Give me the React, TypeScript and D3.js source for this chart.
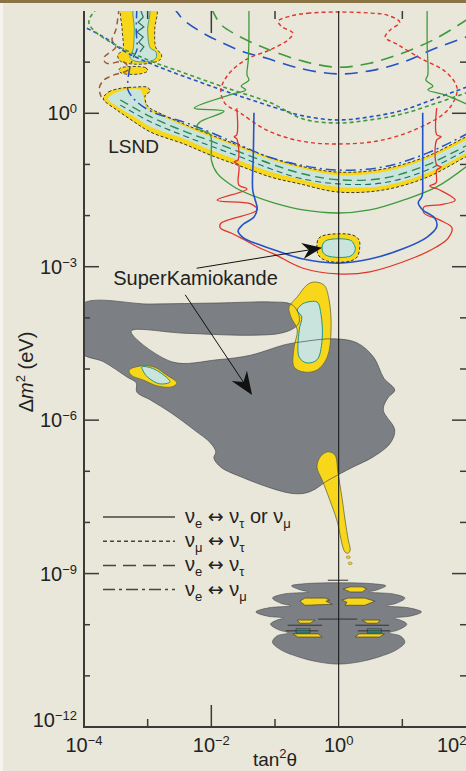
import React from "react";
import * as d3 from "d3";

type Pt = [number, number]; // [log10 tan²θ, log10 Δm²]

// ---- axis ticks / labels ----
const xLabelExps = [-4, -2, 0, 2];
const xMinorExps = [-3, -1, 1];
const xMajorTickExps = [-2];
const yLabelExps = [0, -3, -6, -9, -12];
const yDecades = [1, 0, -1, -2, -3, -4, -5, -6, -7, -8, -9, -10, -11];

// ---- exclusion curves (top) ----
const blueLongDash: Pt[] = [[-2.6,2.08],[-2.54,1.98],[-2.43,1.82],[-2.16,1.59],[-1.85,1.39],[-1.49,1.2],[-1.14,1.08],[-0.65,0.89],[-0.03,0.77],[0.49,0.83],[1.01,1.0],[1.54,1.28],[2.05,1.51]];
const greenLongDash: Pt[] = [[-2.0,2.06],[-1.86,1.75],[-1.63,1.55],[-1.17,1.28],[-0.56,1.02],[-0.01,0.9],[0.49,0.98],[1.01,1.18],[1.54,1.47],[2.05,1.86]];
const blueShortDash: Pt[] = [[-4.05,1.72],[-3.69,1.49],[-3.32,1.18],[-2.79,0.89],[-2.27,0.65],[-1.75,0.42],[-1.02,0.12],[-0.56,-0.05],[-0.01,-0.13],[0.49,-0.07],[1.01,0.06],[1.54,0.3],[2.05,0.53]];
const greenShortDash: Pt[] = [[-3.8,2.05],[-3.91,1.86],[-3.92,1.75],[-3.8,1.57],[-3.48,1.32],[-2.95,1.02],[-2.43,0.79],[-1.8,0.51],[-1.06,0.2],[-0.56,-0.11],[-0.01,-0.19],[0.49,-0.13],[1.01,-0.01],[1.54,0.2],[2.05,0.42]];
const redShortDashLoop: Pt[] = [[-0.01,1.98],[-0.45,1.96],[-0.76,1.9],[-0.95,1.8],[-0.89,1.69],[-0.72,1.57],[-0.8,1.43],[-1.08,1.24],[-1.47,1.04],[-1.74,0.75],[-1.85,0.46],[-1.79,0.2],[-1.55,0.01],[-1.13,-0.33],[-0.61,-0.54],[-0.01,-0.6],[0.7,-0.52],[1.39,-0.21],[1.74,0.1],[1.86,0.49],[1.68,0.81],[1.28,1.08],[0.93,1.34],[0.73,1.49],[0.81,1.63],[0.96,1.78],[0.76,1.92],[0.49,1.96]];
const greenSolidMain: Pt[] = [[-1.41,2.05],[-1.41,1.43],[-1.42,1.04],[-1.44,0.75],[-1.41,0.65],[-1.53,0.53],[-1.46,0.46],[-1.71,0.36],[-2.27,0.1],[-1.8,0.04],[-2.18,-0.17],[-2.23,-0.29],[-2.02,-0.41],[-2.0,-0.72],[-2.0,-0.91],[-1.91,-1.17],[-1.64,-1.44],[-1.33,-1.62],[-1.02,-1.75],[-0.56,-1.89],[-0.01,-1.95],[0.49,-1.89],[1.01,-1.7],[1.54,-1.44],[2.05,-1.0]];
const greenSolidRight: Pt[] = [[1.39,2.05],[1.39,1.34],[1.4,0.75],[1.37,0.65],[1.48,0.53],[1.4,0.46],[1.67,0.36],[2.05,0.16]];
const redSolid: Pt[] = [[-1.6,0.1],[-1.6,-0.42],[-1.64,-0.46],[-1.6,-0.5],[-1.58,-0.91],[-1.64,-0.95],[-1.57,-1.01],[-1.57,-1.4],[-1.44,-1.48],[-1.91,-1.7],[-1.38,-1.77],[-1.28,-1.89],[-1.85,-2.15],[-1.86,-2.24],[-1.69,-2.34],[-1.53,-2.44],[-1.28,-2.61],[-1.02,-2.75],[-0.56,-3.03],[-0.01,-3.14],[0.49,-3.1],[1.17,-2.83],[1.54,-2.61],[1.72,-2.44],[1.78,-2.24],[1.59,-2.09],[1.34,-1.95],[1.34,-1.83],[1.59,-1.79],[1.83,-1.7],[1.59,-1.5],[1.43,-1.42],[1.53,-1.36],[1.54,-1.11],[1.61,-1.05],[1.54,-1.01],[1.54,-0.52],[1.61,-0.46],[1.54,-0.42],[1.54,0.1]];
const blueSolid: Pt[] = [[-1.33,0.01],[-1.34,-0.8],[-1.35,-1.5],[-1.31,-1.7],[-1.28,-1.85],[-1.33,-2.03],[-1.5,-2.17],[-1.58,-2.3],[-1.49,-2.44],[-1.22,-2.58],[-1.02,-2.67],[-0.56,-2.85],[-0.01,-2.93],[0.49,-2.85],[1.01,-2.65],[1.39,-2.42],[1.54,-2.22],[1.51,-2.05],[1.32,-1.89],[1.25,-1.75],[1.31,-1.62],[1.32,-1.3],[1.32,-0.6],[1.32,0.01]];
const brownDash: Pt[] = [[-3.45,2.05],[-3.5,1.63],[-3.56,1.43],[-3.5,1.3],[-3.69,1.08],[-3.65,0.98],[-3.37,1.0],[-3.31,0.85],[-3.53,0.75],[-3.69,0.65],[-3.76,0.49],[-3.73,0.32]];

// ---- LSND allowed band ----
const lsndTop: Pt[] = [[-3.69,0.32],[-3.61,0.42],[-3.42,0.49],[-3.21,0.51],[-3.01,0.51],[-2.96,0.44],[-3.04,0.34],[-3.0,0.14],[-2.79,-0.01],[-2.43,-0.21],[-2.01,-0.42],[-1.55,-0.64],[-1.06,-0.87],[-0.61,-1.03],[-0.01,-1.15],[0.7,-1.09],[1.39,-0.84],[2.0,-0.46],[2.15,-0.37]];
const lsndBottom: Pt[] = [[2.15,-0.76],[2.0,-0.85],[1.39,-1.25],[0.7,-1.5],[-0.01,-1.54],[-0.61,-1.38],[-1.06,-1.25],[-1.55,-1.03],[-2.01,-0.82],[-2.43,-0.6],[-2.95,-0.37],[-3.21,-0.17],[-3.48,0.06],[-3.69,0.26]];
const lsndCyanTop: Pt[] = [[-3.62,0.3],[-3.42,0.44],[-3.12,0.46],[-3.07,0.34],[-3.01,0.1],[-2.79,-0.05],[-2.43,-0.25],[-2.01,-0.46],[-1.55,-0.68],[-1.06,-0.91],[-0.61,-1.07],[-0.01,-1.21],[0.7,-1.15],[1.39,-0.89],[2.0,-0.52],[2.15,-0.43]];
const lsndCyanBottom: Pt[] = [[2.15,-0.7],[2.0,-0.78],[1.39,-1.17],[0.7,-1.42],[-0.01,-1.44],[-0.61,-1.29],[-1.06,-1.15],[-1.55,-0.93],[-2.01,-0.72],[-2.43,-0.5],[-2.95,-0.27],[-3.21,-0.07],[-3.48,0.14],[-3.62,0.26]];
const lsndBlueDashDot: Pt[] = [[-3.17,2.05],[-3.18,1.63],[-3.17,1.24],[-3.23,1.08],[-3.28,0.89],[-3.31,0.65],[-3.31,0.46],[-3.2,0.26],[-2.95,0.04],[-2.34,-0.21],[-1.66,-0.56],[-1.13,-0.84],[-0.61,-1.01],[-0.01,-1.11],[0.7,-1.05],[1.39,-0.78],[2.05,-0.38]];
const lsndGreenCenter: Pt[] = [[-3.43,0.26],[-2.95,-0.07],[-2.43,-0.35],[-2.01,-0.54],[-1.55,-0.76],[-1.06,-0.99],[-0.61,-1.17],[-0.01,-1.3],[0.7,-1.27],[1.39,-1.01],[2.05,-0.6]];
const lsndTealDash: Pt[] = [[-3.43,0.16],[-2.95,-0.17],[-2.43,-0.44],[-2.01,-0.64],[-1.55,-0.85],[-1.06,-1.09],[-0.61,-1.27],[-0.01,-1.38],[0.7,-1.36],[1.39,-1.11],[2.05,-0.68]];
const colYellow: Pt[] = [[-3.4,2.08],[-2.87,2.08],[-2.89,1.63],[-2.87,1.28],[-2.78,1.14],[-2.81,1.04],[-2.96,0.98],[-3.2,0.96],[-3.43,1.02],[-3.47,1.14],[-3.39,1.24],[-3.4,1.63]];
const colYellow2: Pt[] = [[-3.42,0.89],[-3.03,0.89],[-3.0,0.83],[-3.12,0.77],[-3.42,0.79],[-3.45,0.85]];
const colCyan: Pt[] = [[-3.21,2.08],[-2.98,2.08],[-3.0,1.63],[-2.96,1.28],[-2.87,1.2],[-2.87,1.08],[-2.96,1.02],[-3.2,1.02],[-3.28,1.1],[-3.23,1.24],[-3.21,1.63]];
const colWiggle: Pt[] = [[-3.12,2.05],[-3.07,1.88],[-3.15,1.78],[-3.06,1.69],[-3.17,1.59],[-3.07,1.49],[-3.14,1.39],[-3.06,1.3],[-3.12,1.2]];

// ---- Super-Kamiokande atmospheric ----
const skSmallYellow: Pt[] = [[-0.21,-2.38],[0.22,-2.38],[0.32,-2.48],[0.33,-2.63],[0.29,-2.81],[0.18,-2.89],[-0.18,-2.89],[-0.32,-2.77],[-0.34,-2.54],[-0.31,-2.44]];
const skSmallCyan: Pt[] = [[-0.18,-2.48],[0.18,-2.48],[0.24,-2.56],[0.26,-2.67],[0.19,-2.79],[-0.17,-2.79],[-0.25,-2.71],[-0.25,-2.56]];

// ---- solar regions ----
const greyMain: Pt[] = [[-4.05,-3.75],[-2.95,-3.73],[-1.91,-3.71],[-1.06,-3.69],[-0.75,-3.73],[-0.64,-3.89],[-0.62,-4.08],[-0.7,-4.2],[-0.91,-4.3],[-1.38,-4.34],[-2.43,-4.3],[-3.26,-4.26],[-2.62,-4.86],[-1.91,-4.82],[-1.38,-4.73],[-0.86,-4.53],[-0.59,-4.47],[-0.07,-4.41],[0.29,-4.49],[0.55,-4.77],[0.71,-5.18],[0.88,-5.41],[0.77,-5.57],[0.7,-5.8],[0.88,-6.19],[0.81,-6.45],[0.54,-6.72],[0.22,-6.92],[0.02,-7.05],[-0.21,-7.21],[-0.37,-7.35],[-0.54,-7.43],[-0.75,-7.43],[-1.06,-7.33],[-1.49,-7.13],[-1.85,-6.92],[-1.96,-6.74],[-1.93,-6.62],[-2.01,-6.45],[-2.27,-6.19],[-2.63,-5.86],[-2.95,-5.61],[-3.17,-5.45],[-3.18,-5.27],[-3.32,-5.16],[-3.69,-4.86],[-4.05,-4.67]];
const yellowA: Pt[] = [[-0.5,-3.36],[-0.39,-3.3],[-0.23,-3.36],[-0.15,-3.65],[-0.12,-4.24],[-0.18,-4.77],[-0.34,-5.02],[-0.54,-5.06],[-0.7,-4.96],[-0.7,-4.57],[-0.65,-4.24],[-0.75,-3.98],[-0.78,-3.79],[-0.65,-3.59]];
const cyanA: Pt[] = [[-0.54,-3.71],[-0.34,-3.69],[-0.28,-3.91],[-0.26,-4.43],[-0.34,-4.82],[-0.5,-4.88],[-0.62,-4.77],[-0.62,-4.24],[-0.58,-3.98],[-0.65,-3.85],[-0.59,-3.75]];
const yellowB: Pt[] = [[-3.29,-5.02],[-3.1,-4.94],[-2.9,-4.96],[-2.7,-5.12],[-2.54,-5.27],[-2.62,-5.35],[-2.85,-5.33],[-3.06,-5.22],[-3.26,-5.12]];
const cyanB: Pt[] = [[-3.09,-4.96],[-2.9,-5.0],[-2.65,-5.25],[-2.81,-5.29],[-3.0,-5.16],[-3.07,-5.04]];
const yellowTail: Pt[] = [[-0.17,-6.62],[-0.06,-6.68],[-0.01,-7.04],[0.05,-7.5],[0.1,-7.95],[0.15,-8.34],[0.18,-8.54],[0.15,-8.6],[0.1,-8.58],[-0.03,-7.95],[-0.14,-7.56],[-0.26,-7.17],[-0.34,-6.92],[-0.29,-6.72]];
const tailDots: Pt[] = [[0.15,-8.68],[0.18,-8.8]];
// vacuum-oscillation region profile: [log10 Δm², half width in decades about tan²θ = 1]
const vacuumProfile: [number, number][] = [[-9.18,0],[-9.2,0.55],[-9.24,0.74],[-9.32,0.6],[-9.36,0.47],[-9.4,0.86],[-9.48,1.04],[-9.58,0.91],[-9.63,0.75],[-9.67,1.1],[-9.75,1.3],[-9.83,1.13],[-9.87,0.86],[-9.91,0.97],[-9.99,1.07],[-10.1,0.94],[-10.16,0.79],[-10.22,0.97],[-10.34,1.04],[-10.49,0.91],[-10.63,0.63],[-10.73,0.31],[-10.77,0]];
const vacuumYellow: Pt[][] = [
  [[0.07,-9.3],[0.18,-9.26],[0.37,-9.26],[0.44,-9.3],[0.37,-9.36],[0.18,-9.36]],
  [[-0.61,-9.54],[-0.53,-9.48],[-0.21,-9.48],[-0.14,-9.52],[-0.2,-9.54],[-0.1,-9.6],[-0.53,-9.62]],
  [[0.05,-9.52],[0.15,-9.48],[0.41,-9.48],[0.57,-9.54],[0.41,-9.62],[0.1,-9.62],[0.13,-9.56]],
  [[-0.65,-9.91],[-0.37,-9.91],[-0.45,-9.97],[-0.61,-9.97]],
  [[0.37,-9.91],[0.65,-9.91],[0.61,-9.97],[0.45,-9.97]],
  [[-0.72,-10.18],[-0.32,-10.18],[-0.26,-10.24],[-0.64,-10.24]],
  [[0.32,-10.18],[0.72,-10.18],[0.64,-10.24],[0.26,-10.24]],
];
const vacuumCyan: Pt[][] = [
  [[-0.67,-10.08],[-0.45,-10.08],[-0.45,-10.16],[-0.67,-10.16]],
  [[0.45,-10.08],[0.67,-10.08],[0.67,-10.16],[0.45,-10.16]],
];
// dark segments: [x1, x2, y] in log units
const vacuumSegments: [number, number, number][] = [[-0.8,-0.26,-10.01],[-0.83,-0.32,-10.12],[0.26,0.79,-10.01],[0.3,0.81,-10.12],[-0.32,0.29,-9.89],[-0.17,0.15,-9.13]];

// ---- annotations ----
const annotations: { text: string; at: Pt }[] = [
  { text: "LSND", at: [-3.62, -0.78] },
  { text: "SuperKamiokande", at: [-3.54, -3.36] },
];
const arrows: [Pt, Pt, number][] = [
  [[-2.23, -3.03], [-0.26, -2.63], 20],
  [[-2.41, -3.55], [-1.36, -5.51], 23],
];

// legend: [main, subscript] pairs
const legendLabels: [string, string][][] = [
  [["ν", "e"], [" ↔ ν", "τ"], [" or ν", "μ"]],
  [["ν", "μ"], [" ↔ ν", "τ"]],
  [["ν", "e"], [" ↔ ν", "τ"]],
  [["ν", "e"], [" ↔ ν", "μ"]],
];
const legendDashes = ["none", "4 3", "13 7", "12 4 3 4"];

const C = {
  bg: "#e9e7da",
  yellow: "#f8d619",
  cyan: "#c8e4dc",
  teal: "#1f9584",
  grey: "#7c7f83",
  greyEdge: "#4a4c4e",
  red: "#e2332c",
  green: "#3f9a3c",
  blue: "#2552c4",
  brown: "#9b5b3b",
  axis: "#3a3a3a",
};
const FONT = "'Liberation Sans', Arial, 'DejaVu Sans', sans-serif";

export default function App() {
  const W = 466, H = 771;
  const L = 84, R = 466, T = 11, B = 727;
  const x = d3.scaleLog().domain([1e-4, 1e2]).range([L, R]);
  const y = d3.scaleLog().domain([1e-12, 1e2]).range([B, T]);
  const fx = (p: Pt) => x(Math.pow(10, p[0]));
  const fy = (p: Pt) => y(Math.pow(10, p[1]));
  const smooth = d3.line<Pt>().x(fx).y(fy).curve(d3.curveCatmullRom.alpha(0.5));
  const smoothClosed = d3.line<Pt>().x(fx).y(fy).curve(d3.curveCatmullRomClosed.alpha(0.5));
  const linear = d3.line<Pt>().x(fx).y(fy);
  const linearClosed = d3.line<Pt>().x(fx).y(fy).curve(d3.curveLinearClosed);

  const band = [...lsndTop, ...lsndBottom];
  const bandCyan = [...lsndCyanTop, ...lsndCyanBottom];
  const vacuumPoly: Pt[] = [
    ...vacuumProfile.map(([ly, hw]) => [hw, ly] as Pt),
    ...vacuumProfile.slice(1, -1).reverse().map(([ly, hw]) => [-hw, ly] as Pt),
  ];

  const curve = (pts: Pt[], color: string, dash: string, w = 1.5) => (
    <path d={smooth(pts) || ""} fill="none" stroke={color} strokeWidth={w} strokeDasharray={dash} />
  );

  const sup = (e: number, fs: number) => (
    <>
      10<tspan dy={-7} fontSize={fs}>{e < 0 ? `−${-e}` : `${e}`}</tspan>
    </>
  );

  const withArrow = (s: string) => {
    const pieces = s.split("↔");
    return pieces.map((p, k) => (
      <React.Fragment key={k}>
        {k > 0 && <tspan fontFamily="'DejaVu Sans', sans-serif" fontSize={19}>↔</tspan>}
        {p}
      </React.Fragment>
    ));
  };

  const arrowEls = arrows.map(([a, b, hl], i) => {
    const x1 = fx(a), y1 = fy(a), x2 = fx(b), y2 = fy(b);
    const ang = Math.atan2(y2 - y1, x2 - x1);
    const hw = hl * 0.4;
    const ux = Math.cos(ang), uy = Math.sin(ang);
    const bx = x2 - ux * hl, by = y2 - uy * hl;
    const nx = x2 - ux * hl * 0.68, ny = y2 - uy * hl * 0.68;
    const pts = [
      [x2, y2],
      [bx - uy * hw, by + ux * hw],
      [nx, ny],
      [bx + uy * hw, by - ux * hw],
    ];
    return (
      <g key={i}>
        <line x1={x1} y1={y1} x2={nx} y2={ny} stroke="#111" strokeWidth={1} />
        <polygon points={pts.map((p) => p.join(",")).join(" ")} fill="#111" />
      </g>
    );
  });

  return (
    <div style={{ position: "absolute", left: 0, top: 0 }}>
      <svg width={W} height={H} style={{ display: "block", fontFamily: FONT }}>
        <defs>
          <clipPath id="plotclip">
            <rect x={L} y={T} width={R - L + 2} height={B - T} />
          </clipPath>
        </defs>
        <rect x={0} y={0} width={W} height={H} fill={C.bg} />
        <rect x={0} y={0} width={3} height={H} fill="#f4f3ee" />
        <rect x={0} y={0} width={W} height={3} fill="#8a7446" />

        <g clipPath="url(#plotclip)">
          {/* solar regions */}
          <path d={smoothClosed(greyMain) || ""} fill={C.grey} />
          <path d={smoothClosed(vacuumPoly) || ""} fill={C.grey} stroke={C.greyEdge} strokeWidth={0.6} />
          <path d={smoothClosed(yellowA) || ""} fill={C.yellow} stroke="#6b6a3a" strokeWidth={0.8} />
          <path d={smoothClosed(cyanA) || ""} fill={C.cyan} stroke={C.teal} strokeWidth={1} />
          <path d={smoothClosed(yellowB) || ""} fill={C.yellow} stroke="#6b6a3a" strokeWidth={0.8} />
          <path d={smoothClosed(cyanB) || ""} fill={C.cyan} stroke={C.teal} strokeWidth={1} />
          <path d={smoothClosed(yellowTail) || ""} fill={C.yellow} stroke="#6b6a3a" strokeWidth={0.8} />
          {tailDots.map((p, i) => (
            <ellipse key={i} cx={fx(p)} cy={fy(p)} rx={2} ry={1.3} fill={C.yellow} stroke="#6b6a3a" strokeWidth={0.5} />
          ))}
          <path d={smoothClosed(greyMain) || ""} fill="none" stroke={C.greyEdge} strokeWidth={0.7} />
          {vacuumYellow.map((p, i) => (
            <path key={i} d={linearClosed(p) || ""} fill={C.yellow} stroke="#333" strokeWidth={0.6} />
          ))}
          {vacuumCyan.map((p, i) => (
            <path key={i} d={linearClosed(p) || ""} fill="#2aa7a0" stroke="#222" strokeWidth={0.6} />
          ))}
          {vacuumSegments.map(([a, b, v], i) => (
            <line key={i} x1={fx([a, v])} x2={fx([b, v])} y1={fy([a, v])} y2={fy([a, v])} stroke="#333" strokeWidth={1} />
          ))}

          {/* LSND band */}
          <path d={smoothClosed(band) || ""} fill={C.yellow} stroke="#222" strokeWidth={0.9} strokeDasharray="3 2" />
          <path d={smoothClosed(bandCyan) || ""} fill={C.cyan} />
          {curve(lsndGreenCenter, "#2f8a4e", "9 5", 1.4)}
          {curve(lsndTealDash, "#1d6f6a", "6 4", 1.1)}
          <path d={smoothClosed(colYellow) || ""} fill={C.yellow} stroke="#222" strokeWidth={0.8} strokeDasharray="3 2" />
          <path d={smoothClosed(colYellow2) || ""} fill={C.yellow} stroke="#222" strokeWidth={0.8} strokeDasharray="3 2" />
          <path d={smoothClosed(colCyan) || ""} fill={C.cyan} stroke={C.teal} strokeWidth={0.8} />
          <path d={linear(colWiggle) || ""} fill="none" stroke="#2c6f5c" strokeWidth={1.2} />
          {curve(lsndBlueDashDot, C.blue, "10 4 2 4", 1.5)}
          {curve(brownDash, C.brown, "6 4", 1.5)}

          {/* exclusion curves */}
          {curve(blueLongDash, C.blue, "13 8", 1.6)}
          {curve(greenLongDash, C.green, "13 8", 1.6)}
          {curve(blueShortDash, C.blue, "4 3", 1.6)}
          {curve(greenShortDash, C.green, "4 3", 1.6)}
          <path d={smoothClosed(redShortDashLoop) || ""} fill="none" stroke={C.red} strokeWidth={1.4} strokeDasharray="4 3" />
          {curve(greenSolidMain, C.green, "none", 1.3)}
          {curve(greenSolidRight, C.green, "none", 1.3)}
          {curve(redSolid, C.red, "none", 1.3)}
          {curve(blueSolid, C.blue, "none", 1.6)}

          {/* SK small region */}
          <path d={smoothClosed(skSmallYellow) || ""} fill={C.yellow} stroke="#222" strokeWidth={0.9} strokeDasharray="3 2" />
          <path d={smoothClosed(skSmallCyan) || ""} fill={C.cyan} stroke={C.teal} strokeWidth={1} />
        </g>

        {/* maximal mixing line */}
        <line x1={x(1)} x2={x(1)} y1={T} y2={B} stroke="#1a1a1a" strokeWidth={1.1} />

        {/* axes */}
        <line x1={L} x2={L} y1={T} y2={B + 1} stroke={C.axis} strokeWidth={2} />
        <line x1={L} x2={R} y1={B} y2={B} stroke={C.axis} strokeWidth={2} />
        {yDecades.map((e) => {
          const major = e % 3 === 0;
          const yy = y(Math.pow(10, e));
          return (
            <g key={e}>
              <line x1={L} x2={L + (major ? 15 : 6)} y1={yy} y2={yy} stroke={C.axis} strokeWidth={1.5} />
              <line x1={R} x2={R - (major ? 14 : 6)} y1={yy} y2={yy} stroke={C.axis} strokeWidth={1.5} />
            </g>
          );
        })}
        {[...xMinorExps, ...xMajorTickExps].map((e) => {
          const len = xMajorTickExps.includes(e) ? 22 : 8;
          const xx = x(Math.pow(10, e));
          return (
            <g key={e}>
              <line x1={xx} x2={xx} y1={B} y2={B - len} stroke={C.axis} strokeWidth={1.5} />
              <line x1={xx} x2={xx} y1={T} y2={T + len} stroke={C.axis} strokeWidth={1.5} />
            </g>
          );
        })}
        {yLabelExps.map((e) => {
          const yy = y(Math.pow(10, e));
          const isLast = e === yLabelExps[yLabelExps.length - 1];
          return (
            <text key={e} x={77} y={isLast ? yy : yy + 7} textAnchor="end" fontSize={20} fill="#222">
              {sup(e, 13)}
            </text>
          );
        })}
        {xLabelExps.map((e) => {
          const xx = x(Math.pow(10, e));
          const isLast = e === xLabelExps[xLabelExps.length - 1];
          return (
            <text key={e} x={isLast ? xx - 29 : xx} y={752} textAnchor={isLast ? "start" : "middle"} fontSize={20} fill="#222">
              {sup(e, 13)}
            </text>
          );
        })}
        <text x={275} y={766} textAnchor="middle" fontSize={19} fill="#222">
          tan<tspan dy={-8} fontSize={13}>2</tspan>
          <tspan dy={8}>θ</tspan>
        </text>
        <text transform="translate(33,372) rotate(-90)" textAnchor="middle" fontSize={20} fill="#222">
          Δ<tspan fontStyle="italic">m</tspan>
          <tspan dy={-8} fontSize={13}>2</tspan>
          <tspan dy={8}> (eV)</tspan>
        </text>

        {/* annotations */}
        {annotations.map((a) => (
          <text key={a.text} x={fx(a.at)} y={fy(a.at)} fontSize={a.text === "LSND" ? 19 : 20} fill="#222">
            {a.text}
          </text>
        ))}
        {arrowEls}

        {/* legend */}
        {legendLabels.map((parts, i) => {
          const ly = 517 + i * 24.2;
          return (
            <g key={i}>
              <line x1={103} x2={175} y1={ly} y2={ly} stroke="#444" strokeWidth={1.5} strokeDasharray={legendDashes[i]} />
              <text x={185} y={ly + 6} fontSize={20} fill="#222">
                {parts.map(([main, sub], j) => (
                  <React.Fragment key={j}>
                    <tspan dy={j === 0 ? 0 : -5}>{withArrow(main)}</tspan>
                    <tspan dy={5} fontSize={13}>{sub}</tspan>
                  </React.Fragment>
                ))}
              </text>
            </g>
          );
        })}
      </svg>
    </div>
  );
}
